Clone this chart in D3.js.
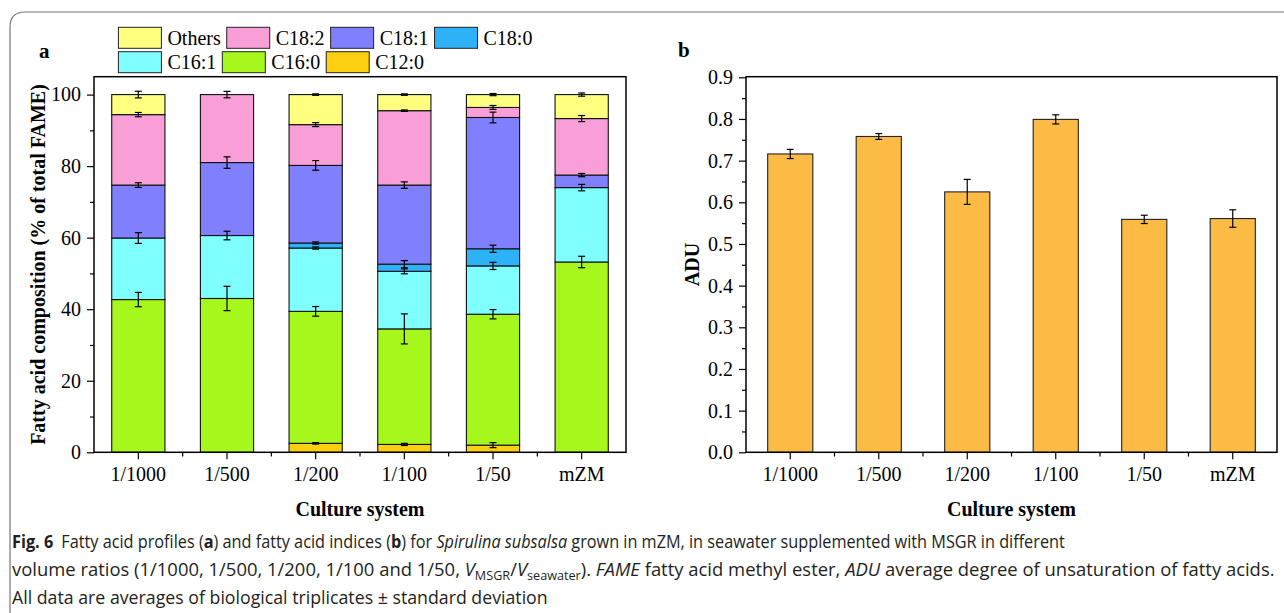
<!DOCTYPE html>
<html>
<head>
<meta charset="utf-8">
<script src="https://cdn.jsdelivr.net/npm/d3@7"></script>
<style>
  body { margin: 0; background: #fff; }
  svg { display: block; }
</style>
</head>
<body>
<script>
"use strict";

// culture systems
const categories = ["1/1000", "1/500", "1/200", "1/100", "1/50", "mZM"];

// panel a: fatty acid composition (% of total FAME), bottom to top
const acids = ["C12:0", "C16:0", "C16:1", "C18:0", "C18:1", "C18:2", "Others"];
const c12_0 = [0, 0, 2.5, 2.2, 2.0, 0];
const c16_0 = [42.7, 43.0, 36.9, 32.3, 36.6, 53.2];
const c16_1 = [17.2, 17.6, 17.7, 16.1, 13.5, 20.8];
const c18_0 = [0, 0, 1.4, 2.0, 4.8, 0];
const c18_1 = [14.8, 20.4, 21.7, 22.1, 36.7, 3.5];
const c18_2 = [19.7, 19.0, 11.4, 20.8, 2.8, 15.8];
const others = [5.6, 0, 8.4, 4.5, 3.6, 6.7];

// standard deviations
const sdC12_0 = [0, 0, 0.2, 0.3, 0.7, 0];
const sdC16_0 = [2.0, 3.4, 1.35, 4.2, 1.3, 1.6];
const sdC16_1 = [1.5, 1.2, 0.3, 0.7, 1.0, 0.9];
const sdC18_0 = [0, 0, 0.3, 1.0, 1.0, 0];
const sdC18_1 = [0.65, 1.6, 1.35, 0.9, 1.5, 0.45];
const sdC18_2 = [0.6, 0.9, 0.55, 0.2, 0.55, 0.85];
const sdOthers = [0.93, 0, 0.2, 0.2, 0.3, 0.45];

// legend rows (as in the figure)
const legendRows = [["Others", "C18:2", "C18:1", "C18:0"], ["C16:1", "C16:0", "C12:0"]];

// panel b: average degree of unsaturation
const adu = [0.716, 0.758, 0.625, 0.799, 0.559, 0.561];
const aduSd = [0.011, 0.007, 0.030, 0.011, 0.010, 0.021];

const yTicksA = [0, 20, 40, 60, 80, 100];
const yTicksB = [0, 0.1, 0.2, 0.3, 0.4, 0.5, 0.6, 0.7, 0.8, 0.9];

const colors = {
  "C12:0": "#fccf10",
  "C16:0": "#a6f71b",
  "C16:1": "#80ffff",
  "C18:0": "#2db2f7",
  "C18:1": "#8080ff",
  "C18:2": "#f99fd8",
  "Others": "#ffff80"
};

const serif = "'Liberation Serif', 'Times New Roman', serif";

const values = [c12_0, c16_0, c16_1, c18_0, c18_1, c18_2, others];
const sds = [sdC12_0, sdC16_0, sdC16_1, sdC18_0, sdC18_1, sdC18_2, sdOthers];

const table = categories.map((c, i) => {
  const row = { cat: c };
  acids.forEach((a, k) => { row[a] = values[k][i]; row["sd_" + a] = sds[k][i]; });
  return row;
});

const svg = d3.select("body").append("svg")
  .attr("width", 1284)
  .attr("height", 613);

// rounded figure border
svg.append("path")
  .attr("d", "M10,613 L10,27 Q10,12 25,12 L1284,12")
  .attr("fill", "none")
  .attr("stroke", "#777")
  .attr("stroke-width", 1.2);

function styleAxis(g, size) {
  g.select(".domain").remove();
  g.selectAll("line").attr("stroke", "#000").attr("stroke-width", 1.2);
  g.selectAll("text")
    .attr("font-family", serif)
    .attr("font-size", size)
    .attr("fill", "#000");
}

// ---------- panel a ----------
const xA = d3.scaleBand().domain(categories).range([94, 626]).paddingInner(0.4).paddingOuter(0.2);
const yA = d3.scaleLinear().domain([0, 105]).range([452.3, 76.7]);

const stack = d3.stack().keys(acids);
const series = stack(table);

const gA = svg.append("g");

series.forEach(s => {
  gA.append("g").selectAll("rect")
    .data(s.filter(d => d[1] - d[0] > 0))
    .join("rect")
      .attr("x", d => xA(d.data.cat))
      .attr("y", d => yA(d[1]))
      .attr("width", xA.bandwidth())
      .attr("height", d => yA(d[0]) - yA(d[1]))
      .attr("fill", colors[s.key])
      .attr("stroke", "#111")
      .attr("stroke-width", 1.1);
});

// error bars at the top of every segment
series.forEach(s => {
  const pts = s.filter(d => d[1] - d[0] > 0 && d.data["sd_" + s.key] > 0);
  const eb = gA.append("g").attr("stroke", "#000").attr("stroke-width", 1.2);
  pts.forEach(d => {
    const cx = xA(d.data.cat) + xA.bandwidth() / 2;
    const sd = d.data["sd_" + s.key];
    const y1 = yA(d[1] + sd), y2 = yA(d[1] - sd);
    eb.append("line").attr("x1", cx).attr("x2", cx).attr("y1", y1).attr("y2", y2);
    eb.append("line").attr("x1", cx - 3.5).attr("x2", cx + 3.5).attr("y1", y1).attr("y2", y1);
    eb.append("line").attr("x1", cx - 3.5).attr("x2", cx + 3.5).attr("y1", y2).attr("y2", y2);
  });
});

// y axis a
gA.append("g")
  .attr("transform", "translate(94,0)")
  .call(d3.axisLeft(yA).tickValues(yTicksA).tickSize(7).tickPadding(6))
  .call(g => styleAxis(g, 20));
gA.append("g")
  .attr("transform", "translate(94,0)")
  .call(d3.axisLeft(yA).tickValues(d3.range(10, 105, 20)).tickSize(4).tickFormat(""))
  .call(g => styleAxis(g, 20));

// x axis a
gA.append("g")
  .attr("transform", "translate(0,452.3)")
  .call(d3.axisBottom(xA).tickSize(7).tickPadding(8))
  .call(g => styleAxis(g, 20));
gA.append("g").selectAll("line")
  .data(d3.range(1, categories.length))
  .join("line")
    .attr("x1", i => xA.range()[0] + i * xA.step())
    .attr("x2", i => xA.range()[0] + i * xA.step())
    .attr("y1", 452.3).attr("y2", 456.5)
    .attr("stroke", "#000").attr("stroke-width", 1.2);

// frame a
gA.append("rect")
  .attr("x", xA.range()[0]).attr("y", yA.range()[1])
  .attr("width", xA.range()[1] - xA.range()[0])
  .attr("height", yA.range()[0] - yA.range()[1])
  .attr("fill", "none").attr("stroke", "#000").attr("stroke-width", 1.5);

gA.append("text")
  .attr("x", 39).attr("y", 58)
  .attr("font-family", serif).attr("font-weight", "bold").attr("font-size", 21)
  .text("a");

gA.append("text")
  .attr("transform", "translate(45," + (yA.range()[0] + yA.range()[1]) / 2 + ") rotate(-90)")
  .attr("text-anchor", "middle")
  .attr("font-family", serif).attr("font-weight", "bold").attr("font-size", 20)
  .text("Fatty acid composition (% of total FAME)");

gA.append("text")
  .attr("x", (xA.range()[0] + xA.range()[1]) / 2).attr("y", 516)
  .attr("text-anchor", "middle")
  .attr("font-family", serif).attr("font-weight", "bold").attr("font-size", 20)
  .text("Culture system");

// legend
const legend = gA.append("g");
legendRows.forEach((row, r) => {
  let lx = 118.4;
  const ly = 27.3 + r * 24.4;
  row.forEach(name => {
    legend.append("rect")
      .attr("x", lx).attr("y", ly)
      .attr("width", 43).attr("height", 21)
      .attr("fill", colors[name])
      .attr("stroke", "#222").attr("stroke-width", 1);
    const t = legend.append("text")
      .attr("x", lx + 49).attr("y", ly + 17.7)
      .attr("font-family", serif).attr("font-size", 20)
      .text(name);
    lx += 49 + t.node().getComputedTextLength() + 6;
  });
});

// ---------- panel b ----------
const xB = d3.scaleBand().domain(categories).range([746, 1277]).paddingInner(0.49).paddingOuter(0.245);
const yB = d3.scaleLinear().domain([0, 0.9]).range([452.3, 77.3]);

const gB = svg.append("g");

gB.append("g").selectAll("rect")
  .data(adu)
  .join("rect")
    .attr("x", (d, i) => xB(categories[i]))
    .attr("y", d => yB(d))
    .attr("width", xB.bandwidth())
    .attr("height", d => yB(0) - yB(d))
    .attr("fill", "#fcbb45")
    .attr("stroke", "#222")
    .attr("stroke-width", 1.1);

const ebB = gB.append("g").attr("stroke", "#000").attr("stroke-width", 1.2);
adu.forEach((v, i) => {
  const cx = xB(categories[i]) + xB.bandwidth() / 2;
  const y1 = yB(v + aduSd[i]), y2 = yB(v - aduSd[i]);
  ebB.append("line").attr("x1", cx).attr("x2", cx).attr("y1", y1).attr("y2", y2);
  ebB.append("line").attr("x1", cx - 3.5).attr("x2", cx + 3.5).attr("y1", y1).attr("y2", y1);
  ebB.append("line").attr("x1", cx - 3.5).attr("x2", cx + 3.5).attr("y1", y2).attr("y2", y2);
});

gB.append("g")
  .attr("transform", "translate(746,0)")
  .call(d3.axisLeft(yB).tickValues(yTicksB).tickSize(7).tickPadding(6).tickFormat(d3.format(".1f")))
  .call(g => styleAxis(g, 20));
gB.append("g")
  .attr("transform", "translate(746,0)")
  .call(d3.axisLeft(yB).tickValues(d3.range(0.05, 0.9, 0.1)).tickSize(4).tickFormat(""))
  .call(g => styleAxis(g, 20));

gB.append("g")
  .attr("transform", "translate(0,452.3)")
  .call(d3.axisBottom(xB).tickSize(7).tickPadding(8))
  .call(g => styleAxis(g, 20));
gB.append("g").selectAll("line")
  .data(d3.range(1, categories.length))
  .join("line")
    .attr("x1", i => xB.range()[0] + i * xB.step())
    .attr("x2", i => xB.range()[0] + i * xB.step())
    .attr("y1", 452.3).attr("y2", 456.5)
    .attr("stroke", "#000").attr("stroke-width", 1.2);

gB.append("rect")
  .attr("x", xB.range()[0]).attr("y", 76.7)
  .attr("width", xB.range()[1] - xB.range()[0])
  .attr("height", yB.range()[0] - 76.7)
  .attr("fill", "none").attr("stroke", "#000").attr("stroke-width", 1.5);

gB.append("text")
  .attr("x", 678).attr("y", 57)
  .attr("font-family", serif).attr("font-weight", "bold").attr("font-size", 21)
  .text("b");

gB.append("text")
  .attr("transform", "translate(699," + (yB.range()[0] + 76.7) / 2 + ") rotate(-90)")
  .attr("text-anchor", "middle")
  .attr("font-family", serif).attr("font-weight", "bold").attr("font-size", 20)
  .text("ADU");

gB.append("text")
  .attr("x", (xB.range()[0] + xB.range()[1]) / 2).attr("y", 516)
  .attr("text-anchor", "middle")
  .attr("font-family", serif).attr("font-weight", "bold").attr("font-size", 20)
  .text("Culture system");

// ---------- caption ----------
const captionLines = [
  { y: 548, w: 1054, parts: [
    { t: "Fig. 6", b: true }, { t: "\u2002Fatty acid profiles (" }, { t: "a", b: true },
    { t: ") and fatty acid indices (" }, { t: "b", b: true }, { t: ") for " },
    { t: "Spirulina subsalsa", i: true },
    { t: " grown in mZM, in seawater supplemented with MSGR in different" }] },
  { y: 576, w: 1263, parts: [
    { t: "volume ratios (1/1000, 1/500, 1/200, 1/100 and 1/50, " }, { t: "V", i: true },
    { t: "MSGR", sub: true }, { t: "/" }, { t: "V", i: true }, { t: "seawater", sub: true },
    { t: "). " }, { t: "FAME", i: true }, { t: " fatty acid methyl ester, " },
    { t: "ADU", i: true }, { t: " average degree of unsaturation of fatty acids." }] },
  { y: 604, w: 536, parts: [
    { t: "All data are averages of biological triplicates \u00b1 standard deviation" }] }
];

captionLines.forEach(line => {
  const t = svg.append("text")
    .attr("x", 0).attr("y", 0)
    .attr("font-family", "'Open Sans', 'Noto Sans', sans-serif")
    .attr("font-size", 17.5)
    .attr("fill", "#231f20");
  let shifted = false;
  line.parts.forEach(p => {
    const ts = t.append("tspan").text(p.t);
    if (p.b) ts.attr("font-weight", "bold");
    if (p.i) ts.attr("font-style", "italic");
    if (p.sub) {
      ts.attr("font-size", 12).attr("dy", shifted ? 0 : 4);
      shifted = true;
    } else if (shifted) {
      ts.attr("dy", -4);
      shifted = false;
    }
  });
  const w = t.node().getComputedTextLength();
  t.attr("transform", "translate(12," + line.y + ") scale(" + (line.w / w) + ",1)");
});
</script>
</body>
</html>
